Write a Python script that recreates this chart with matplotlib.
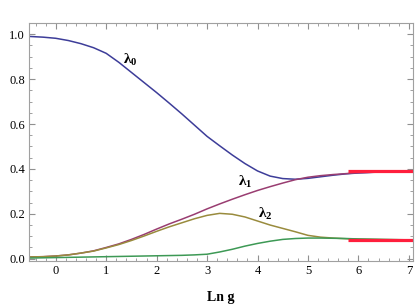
import numpy as np
import matplotlib.pyplot as plt
from matplotlib.ticker import MultipleLocator

# eigenvalues, x = Ln g
x = [-0.5, -0.25, 0, 0.25, 0.5, 0.75, 1, 1.25, 1.5, 1.75, 2, 2.25, 2.5, 2.75, 3,
     3.25, 3.5, 3.75, 4, 4.25, 4.5, 4.75, 5, 5.25, 5.5, 5.75, 6, 6.5, 7, 7.1]

lam0 = [0.99, 0.987, 0.982, 0.972, 0.958, 0.94, 0.915, 0.875, 0.83, 0.785, 0.74,
        0.693, 0.645, 0.595, 0.545, 0.503, 0.462, 0.424, 0.391, 0.368, 0.357,
        0.354, 0.358, 0.365, 0.372, 0.378, 0.382, 0.387, 0.39, 0.39]
lam1 = [0.008, 0.009, 0.012, 0.017, 0.025, 0.035, 0.05, 0.066, 0.086, 0.108, 0.132,
        0.155, 0.176, 0.198, 0.222, 0.244, 0.265, 0.285, 0.304, 0.321, 0.337,
        0.352, 0.363, 0.37, 0.375, 0.379, 0.383, 0.387, 0.39, 0.39]
lam2 = [0.008, 0.009, 0.012, 0.017, 0.025, 0.034, 0.048, 0.063, 0.081, 0.101, 0.122,
        0.142, 0.16, 0.178, 0.193, 0.202, 0.198, 0.186, 0.168, 0.15, 0.135,
        0.12, 0.104, 0.096, 0.092, 0.089, 0.087, 0.085, 0.084, 0.084]
lam3 = [0.003, 0.004, 0.005, 0.006, 0.007, 0.008, 0.009, 0.01, 0.011, 0.012, 0.013,
        0.014, 0.015, 0.017, 0.02, 0.03, 0.042, 0.056, 0.068, 0.078, 0.086,
        0.09, 0.092, 0.092, 0.091, 0.09, 0.088, 0.086, 0.084, 0.084]

# asymptotic values (red bars)
limits = [0.39, 0.083]
limit_range = [5.8, 7.1]

plt.rcParams['font.family'] = ['Liberation Serif', 'DejaVu Serif']
plt.rcParams['mathtext.fontset'] = 'custom'
plt.rcParams['mathtext.rm'] = 'Liberation Serif'
plt.rcParams['mathtext.it'] = 'Liberation Serif:italic'
plt.rcParams['mathtext.bf'] = 'Liberation Serif:bold'

fig = plt.figure(figsize=(4.15, 3.07), dpi=100)
ax = fig.add_axes([0.0699, 0.150, 0.925, 0.775])

colors = ['#3d3d99', '#993d71', '#998b3d', '#3d9955']
for ys, c in zip([lam0, lam1, lam2, lam3], colors):
    ax.plot(x, ys, color=c, lw=1.1)

for v in limits:
    ax.plot(limit_range, [v, v], color='#ff1f3d', lw=2.3, solid_capstyle='butt')

# curve labels
ax.text(1.48, 0.885, r'$\mathbf{\lambda_0}$', fontsize=11, ha='center', va='center')
ax.text(3.75, 0.34, r'$\mathbf{\lambda_1}$', fontsize=11, ha='center', va='center')
ax.text(4.15, 0.2, r'$\mathbf{\lambda_2}$', fontsize=11, ha='center', va='center')

ax.set_xlim(-0.53, 7.08)
ax.set_ylim(-0.01, 1.05)
ax.xaxis.set_major_locator(MultipleLocator(1))
ax.xaxis.set_minor_locator(MultipleLocator(0.2))
ax.yaxis.set_major_locator(MultipleLocator(0.2))
ax.yaxis.set_minor_locator(MultipleLocator(0.05))
ax.yaxis.set_major_formatter(plt.FuncFormatter(lambda v, p: f'{v:.1f}'))

for sp in ax.spines.values():
    sp.set_color('#a0a0a0')
ax.tick_params(which='both', direction='in', top=True, right=True, color='#909090',
               labelsize=9, pad=3)
ax.tick_params(which='major', length=4)
ax.tick_params(which='minor', length=2)

ax.set_xlabel('Ln g', fontsize=10, fontweight='bold', labelpad=10)

fig.savefig('out.png', dpi=100)
